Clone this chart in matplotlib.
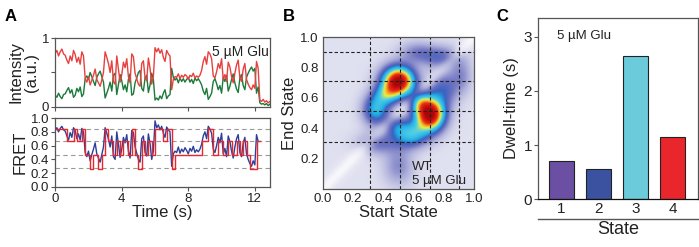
import numpy as np
import matplotlib
matplotlib.use('Agg')
import matplotlib.pyplot as plt
from matplotlib.colors import LinearSegmentedColormap

plt.rcParams['font.family'] = ['Liberation Sans', 'DejaVu Sans']

# ---- panel A data (0.1 s bins) ----
dt = 0.1
red_int = [0.78, 0.82, 0.74, 0.80, 0.84, 0.77, 0.75, 0.68, 0.63, 0.74, 0.67, 0.82, 0.76, 0.65, 0.72,
           0.62, 0.80, 0.74, 0.42, 0.36, 0.44, 0.32, 0.39, 0.46, 0.55, 0.40, 0.35, 0.30, 0.39, 0.50,
           0.80, 0.72, 0.63, 0.50, 0.67, 0.37, 0.33, 0.74, 0.55, 0.36, 0.47, 0.65, 0.57, 0.70, 0.44,
           0.35, 0.77, 0.73, 0.49, 0.41, 0.33, 0.30, 0.63, 0.67, 0.42, 0.38, 0.71, 0.56, 0.33, 0.44,
           0.86, 0.80, 0.85, 0.78, 0.83, 0.72, 0.66, 0.82, 0.77, 0.74, 0.25, 0.40, 0.44, 0.43, 0.48,
           0.41, 0.46, 0.43, 0.47, 0.45, 0.40, 0.46, 0.44, 0.49, 0.42, 0.45, 0.43, 0.46, 0.53, 0.66,
           0.73, 0.62, 0.80, 0.77, 0.70, 0.45, 0.42, 0.51, 0.63, 0.56, 0.70, 0.40, 0.47, 0.37, 0.65,
           0.58, 0.44, 0.35, 0.49, 0.61, 0.68, 0.42, 0.37, 0.55, 0.63, 0.40, 0.33, 0.28, 0.25, 0.32,
           0.27, 0.66, 0.56, 0.10, 0.08, 0.11, 0.07, 0.09, 0.06, 0.08]
green_int = [0.17, 0.14, 0.20, 0.15, 0.12, 0.18, 0.19, 0.24, 0.28, 0.20, 0.25, 0.14, 0.17, 0.27, 0.22,
             0.29, 0.15, 0.19, 0.41, 0.45, 0.40, 0.50, 0.44, 0.37, 0.31, 0.43, 0.48, 0.52, 0.44, 0.36,
             0.13, 0.20, 0.27, 0.36, 0.23, 0.46, 0.49, 0.18, 0.33, 0.47, 0.38, 0.25, 0.32, 0.22, 0.40,
             0.48, 0.17, 0.19, 0.35, 0.42, 0.50, 0.53, 0.27, 0.23, 0.42, 0.46, 0.21, 0.32, 0.49, 0.40,
             0.10, 0.13, 0.10, 0.16, 0.12, 0.20, 0.25, 0.12, 0.16, 0.18, 0.56, 0.43, 0.39, 0.42, 0.35,
             0.42, 0.37, 0.41, 0.36, 0.40, 0.43, 0.36, 0.40, 0.34, 0.42, 0.38, 0.41, 0.37, 0.32, 0.23,
             0.18, 0.27, 0.11, 0.15, 0.20, 0.37, 0.41, 0.34, 0.25, 0.31, 0.20, 0.43, 0.37, 0.46, 0.23,
             0.30, 0.40, 0.48, 0.35, 0.26, 0.21, 0.42, 0.47, 0.31, 0.25, 0.43, 0.49, 0.54, 0.58, 0.52,
             0.56, 0.20, 0.29, 0.06, 0.04, 0.05, 0.03, 0.05, 0.02, 0.04]
fret = [0.82, 0.86, 0.80, 0.85, 0.88, 0.83, 0.81, 0.74, 0.68, 0.79, 0.72, 0.86, 0.82, 0.70, 0.77,
        0.68, 0.85, 0.80, 0.50, 0.44, 0.52, 0.38, 0.47, 0.55, 0.64, 0.48, 0.42, 0.36, 0.47, 0.58,
        0.86, 0.78, 0.70, 0.58, 0.74, 0.44, 0.40, 0.80, 0.62, 0.43, 0.55, 0.72, 0.64, 0.76, 0.52,
        0.42, 0.82, 0.79, 0.58, 0.49, 0.40, 0.36, 0.70, 0.74, 0.50, 0.45, 0.77, 0.63, 0.40, 0.52,
        0.96, 0.86, 0.90, 0.83, 0.88, 0.78, 0.72, 0.87, 0.83, 0.80, 0.30, 0.48, 0.52, 0.50, 0.58,
        0.49, 0.55, 0.51, 0.57, 0.53, 0.48, 0.56, 0.52, 0.59, 0.50, 0.54, 0.51, 0.55, 0.62, 0.74,
        0.80, 0.70, 0.88, 0.84, 0.78, 0.55, 0.50, 0.60, 0.72, 0.64, 0.78, 0.48, 0.56, 0.44, 0.74,
        0.66, 0.52, 0.42, 0.58, 0.70, 0.76, 0.50, 0.44, 0.64, 0.72, 0.48, 0.40, 0.34, 0.30, 0.38,
        0.32, 0.76, 0.66]
# idealized path: state level and number of 0.1 s bins it lasts
ideal_level = [0.84, 0.66, 0.84, 0.66, 0.84, 0.46, 0.26, 0.46, 0.26, 0.46, 0.84, 0.66, 0.46, 0.66,
               0.46, 0.66, 0.46, 0.84, 0.46, 0.26, 0.66, 0.46, 0.66, 0.46, 0.84, 0.66, 0.84, 0.26,
               0.46, 0.66, 0.84, 0.46, 0.66, 0.46, 0.66, 0.46, 0.66, 0.46, 0.66, 0.46, 0.26, 0.66]
ideal_bins = [7, 4, 2, 3, 2, 3, 2, 3, 2, 2, 2, 3, 2, 2, 2, 3, 2, 2, 2, 2, 2, 2, 2, 2, 5, 2, 3, 2,
              16, 4, 3, 3, 3, 3, 2, 3, 2, 2, 2, 2, 4, 2]
fret_states = [0.27, 0.46, 0.66, 0.84]

# ---- panel B data: transition density peaks (start, end, height, sd_x, sd_y) ----
tdp_x = [0.50, 0.71, 0.35, 0.58, 0.42, 0.64, 0.78, 0.80, 0.36, 0.50, 0.92, 0.62, 0.48]
tdp_y = [0.71, 0.49, 0.52, 0.36, 0.62, 0.57, 0.87, 0.66, 0.30, 0.15, 0.75, 0.90, 0.42]
tdp_h = [0.95, 0.95, 0.40, 0.42, 0.30, 0.28, 0.22, 0.24, 0.20, 0.16, 0.14, 0.16, 0.18]
tdp_sx = [0.075, 0.068, 0.06, 0.08, 0.06, 0.05, 0.09, 0.07, 0.09, 0.07, 0.05, 0.08, 0.05]
tdp_sy = [0.068, 0.075, 0.07, 0.06, 0.05, 0.05, 0.05, 0.08, 0.05, 0.09, 0.08, 0.05, 0.05]
tdp_lines = [0.31, 0.51, 0.71, 0.90]

# ---- panel C data ----
states = [1, 2, 3, 4]
dwell = [0.70, 0.55, 2.65, 1.15]
bar_colors = ['#6a4fa3', '#3a52a0', '#6ccbdb', '#e8262b']

fig = plt.figure(figsize=(6.99, 2.47), dpi=100)
spine_col = '#555555'
txt_col = '#222222'
tick_fs = 9.5
lab_fs = 12

def style(ax):
    for s in ax.spines.values():
        s.set_color(spine_col)
        s.set_linewidth(0.9)
    ax.tick_params(labelsize=tick_fs, length=3, width=0.8, color=spine_col, pad=1.5,
                   labelcolor=txt_col)

# A top: intensity
ax1 = fig.add_axes([0.079, 0.567, 0.307, 0.279])
t_int = np.arange(len(red_int)) * dt
ax1.plot(t_int, green_int, color='#1b7a3a', lw=1.0)
ax1.plot(t_int, red_int, color='#e8403f', lw=1.0)
ax1.set_xlim(0, 12.9)
ax1.set_ylim(0, 1)
ax1.set_xticks([0, 4, 8, 12])
ax1.set_xticklabels([])
ax1.set_yticks([0, 0.5, 1])
ax1.set_yticklabels(['0', '', '1'])
ax1.set_ylabel('Intensity\n(a.u.)', fontsize=lab_fs, labelpad=2, linespacing=1.0, color=txt_col)
ax1.text(0.995, 0.8, '5 µM Glu', transform=ax1.transAxes, ha='right', va='center',
         fontsize=10, color=txt_col)
style(ax1)

# A bottom: FRET
ax2 = fig.add_axes([0.079, 0.243, 0.307, 0.279])
t_fret = np.arange(len(fret)) * dt
ideal_t = np.concatenate([[0], np.cumsum(ideal_bins)]) * dt
for lv in fret_states:
    ax2.axhline(lv, color='#999999', ls='--', lw=0.8, dashes=(4, 3))
ax2.plot(t_fret, fret, color='#2e3f9a', lw=1.0)
ax2.step(ideal_t, ideal_level + [ideal_level[-1]], where='post', color='#e8262b', lw=1.0)
ax2.set_xlim(0, 12.9)
ax2.set_ylim(0, 1)
ax2.set_xticks([0, 4, 8, 12])
ax2.set_yticks(np.arange(0, 1.01, 0.2))
ax2.set_yticklabels([f'{v:.1f}' for v in np.arange(0, 1.01, 0.2)])
ax2.set_ylabel('FRET', fontsize=lab_fs, labelpad=2, color=txt_col)
ax2.set_xlabel('Time (s)', fontsize=lab_fs, labelpad=0, color=txt_col)
style(ax2)

# B: transition density plot
ax3 = fig.add_axes([0.462, 0.235, 0.216, 0.615])
g = np.linspace(0, 1, 300)
X, Y = np.meshgrid(g, g)
Z = np.full_like(X, 0.11)
for x0, y0, h, sx, sy in zip(tdp_x, tdp_y, tdp_h, tdp_sx, tdp_sy):
    Z += h * np.exp(-((X - x0) ** 2 / (2 * sx ** 2) + (Y - y0) ** 2 / (2 * sy ** 2)))
# empty diagonal (no self transitions)
Z -= 0.08 * np.exp(-((X - Y) ** 2) / (2 * 0.04 ** 2))
Z = np.clip(Z, 0, None)
cmap = LinearSegmentedColormap.from_list('tdp', [
    (0.0, '#ffffff'), (0.1, '#e2e2f1'), (0.2, '#aeb0da'), (0.3, '#6d72c0'),
    (0.38, '#3a62c0'), (0.46, '#22aee6'), (0.56, '#4ccbe6'), (0.66, '#e8ee48'),
    (0.74, '#f5a020'), (0.82, '#e83314'), (0.92, '#d41010'), (1.0, '#a80808')])
ax3.imshow(Z, origin='lower', extent=[0, 1, 0, 1], cmap=cmap, vmin=0, vmax=1.05,
           aspect='auto', interpolation='bilinear')
for lv in tdp_lines:
    ax3.axvline(lv, color='#222222', ls='--', lw=0.8, dashes=(3, 2))
    ax3.axhline(lv, color='#222222', ls='--', lw=0.8, dashes=(3, 2))
ax3.set_xlim(0, 1)
ax3.set_ylim(0, 1)
ax3.set_xticks(np.arange(0, 1.01, 0.2))
ax3.set_xticklabels([f'{v:.1f}' for v in np.arange(0, 1.01, 0.2)])
ax3.set_yticks(np.arange(0.2, 1.01, 0.2))
ax3.set_yticklabels([f'{v:.1f}' for v in np.arange(0.2, 1.01, 0.2)])
ax3.set_xlabel('Start State', fontsize=lab_fs, labelpad=0, color=txt_col)
ax3.set_ylabel('End State', fontsize=lab_fs, labelpad=2, color=txt_col)
ax3.text(0.59, 0.145, 'WT', fontsize=9.5, ha='left', va='center', color=txt_col)
ax3.text(0.59, 0.05, '5 µM Glu', fontsize=9.5, ha='left', va='center', color=txt_col)
style(ax3)
ax3.tick_params(length=0, pad=3)

# C: dwell times
ax4 = fig.add_axes([0.770, 0.194, 0.229, 0.733])
ax4.bar(states, dwell, width=0.67, color=bar_colors, edgecolor='#222222', linewidth=0.8)
ax4.set_xlim(0.37, 4.69)
ax4.set_ylim(0, 3.35)
ax4.set_xticks(states)
ax4.set_yticks([0, 1, 2, 3])
ax4.set_ylabel('Dwell-time (s)', fontsize=lab_fs, labelpad=3, color=txt_col)
ax4.text(0.12, 0.9, '5 µM Glu', transform=ax4.transAxes, fontsize=9.5, va='center',
         color=txt_col)
style(ax4)
ax4.tick_params(labelsize=11)
ax4.spines['bottom'].set_color('#111111')
ax4.tick_params(axis='x', length=0, pad=2)
ax4.plot([0.0, 1.0], [-0.11, -0.11], transform=ax4.transAxes, color='#555555', lw=1.0,
         clip_on=False)
ax4.text(0.5, -0.17, 'State', transform=ax4.transAxes, ha='center', va='center',
         fontsize=lab_fs + 1, color=txt_col)

fig.text(0.006, 0.915, 'A', fontsize=12, fontweight='bold')
fig.text(0.405, 0.915, 'B', fontsize=12, fontweight='bold')
fig.text(0.71, 0.915, 'C', fontsize=12, fontweight='bold')

fig.savefig('out.png', dpi=100)
